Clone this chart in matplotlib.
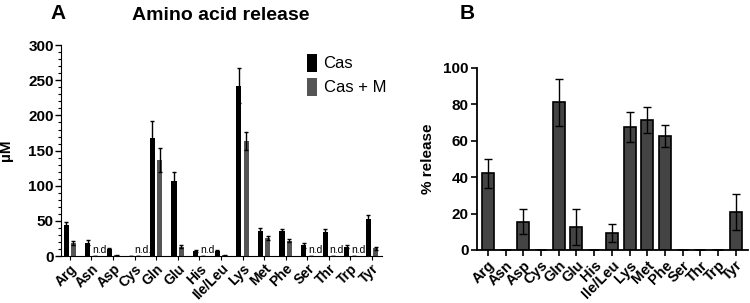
import numpy as np
import matplotlib
matplotlib.use("Agg")
from matplotlib import pyplot as plt
from matplotlib.ticker import MultipleLocator

plt.rcParams['font.family'] = ['Liberation Sans', 'DejaVu Sans']

acides = ['Arg', 'Asn', 'Asp', 'Cys', 'Gln', 'Glu', 'His', 'Ile/Leu',
          'Lys', 'Met', 'Phe', 'Ser', 'Thr', 'Trp', 'Tyr']

# panel A (uM)
cas = [44, 19, 10, 0, 168, 107, 7, 7, 242, 36, 35, 15, 34, 13, 53]
cas_err = [4, 4, 2, 0, 24, 12, 1.5, 1.5, 25, 4, 3, 3, 5, 2, 6]
cas_m = [18, 0, 1, 0, 136, 13, 0, 1, 164, 26, 22, 0, 0, 0, 11]
cas_m_err = [3, 0, 0.5, 0, 17, 2, 0, 0.5, 13, 3, 2, 0, 0, 0, 2]
nd_labels = ['', 'n.d', '', 'n.d.', '', '', 'n.d', '', '', '', '', 'n.d', 'n.d', 'n.d', '']

# panel B (% release)
release = [42, 0, 15.5, 0, 81, 12.5, 0, 9.5, 67.5, 71.5, 62.5, 0, 0, 0, 21]
release_err = [8, 0, 7, 0, 13, 10, 0, 5, 8, 7, 6, 0, 0, 0, 10]

x = np.arange(len(acides))

fig = plt.figure(figsize=(7.5, 3.03), dpi=100)

# ---- A ----
axA = fig.add_axes([0.081, 0.155, 0.428, 0.696])
w = 0.24
axA.bar(x - 0.17, cas, w, color='black', yerr=cas_err, ecolor='black',
        error_kw=dict(elinewidth=1, capsize=1.5, capthick=1), label='Cas')
axA.bar(x + 0.17, cas_m, w, color='#555555', yerr=cas_m_err, ecolor='black',
        error_kw=dict(elinewidth=1, capsize=1.5, capthick=1), label='Cas + M')
for i, t in enumerate(nd_labels):
    if t:
        axA.text(i + 0.37, 2, t, ha='center', va='bottom', fontsize=7.5)
axA.set_xlim(-0.42, 14.45)
axA.set_ylim(0, 300)
axA.yaxis.set_major_locator(MultipleLocator(50))
axA.yaxis.set_minor_locator(MultipleLocator(10))
axA.set_xticks(x)
axA.set_xticklabels(acides, rotation=45, ha='right', rotation_mode='anchor',
                    fontweight='bold', fontsize=10)
for lab in axA.get_yticklabels():
    lab.set_fontweight('bold')
    lab.set_fontsize(11)
axA.tick_params(axis='x', length=3, pad=1)
axA.tick_params(axis='y', which='major', length=4, width=1, pad=1)
axA.tick_params(axis='y', which='minor', length=2, width=0.8)
for s in ['top', 'right']:
    axA.spines[s].set_visible(False)
axA.set_ylabel('µM', fontweight='bold', fontsize=11)
axA.yaxis.set_label_coords(-0.15, 0.5)
axA.legend(loc='upper left', bbox_to_anchor=(0.72, 1.03), frameon=False,
           fontsize=12, handlelength=0.6, handleheight=1.3, handletextpad=0.4,
           labelspacing=0.35)

fig.text(0.295, 0.948, 'Amino acid release', ha='center', va='center',
         fontsize=14, fontweight='bold')
fig.text(0.077, 0.955, 'A', ha='center', va='center', fontsize=15, fontweight='bold')

# ---- B ----
axB = fig.add_axes([0.636, 0.175, 0.361, 0.601])
axB.bar(x, release, 0.68, color='#444444', edgecolor='black', linewidth=1.2,
        yerr=release_err, ecolor='black',
        error_kw=dict(elinewidth=1, capsize=3, capthick=1))
axB.set_xlim(-0.62, 14.68)
axB.set_ylim(0, 100)
axB.set_yticks([0, 20, 40, 60, 80, 100])
axB.set_xticks(x)
axB.set_xticklabels(acides, rotation=45, ha='right', rotation_mode='anchor',
                    fontweight='bold', fontsize=10.5)
for lab in axB.get_yticklabels():
    lab.set_fontweight('bold')
    lab.set_fontsize(11)
axB.tick_params(axis='both', length=4, width=1.2, pad=2)
for s in ['top', 'right']:
    axB.spines[s].set_visible(False)
for s in ['left', 'bottom']:
    axB.spines[s].set_linewidth(1.3)
axB.set_ylabel('% release', fontweight='bold', fontsize=11, labelpad=6)
fig.text(0.623, 0.955, 'B', ha='center', va='center', fontsize=15, fontweight='bold')

fig.savefig('out.png', dpi=100)
